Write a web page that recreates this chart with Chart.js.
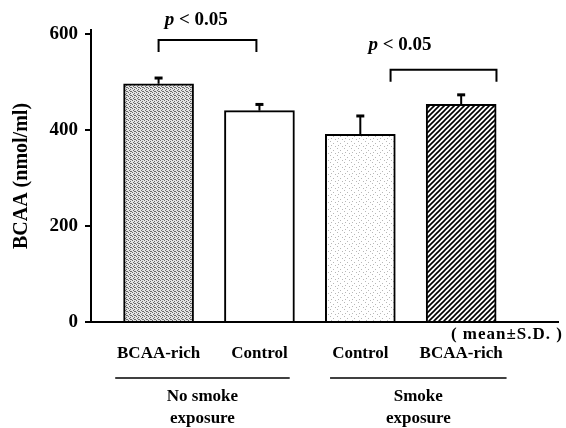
<!DOCTYPE html>
<html><head><meta charset="utf-8">
<script src="https://cdn.jsdelivr.net/npm/chart.js@4/dist/chart.umd.min.js"></script>
<style>html,body{margin:0;padding:0;background:#fff}#wrap{width:566px;height:428px}</style>
</head><body><div id="wrap"><canvas id="c"></canvas></div>
<script>
// ---- data ----
const categories = ['BCAA-rich', 'Control', 'Control', 'BCAA-rich'];
const positions = [1, 2, 3, 4];
const means = [496, 440, 391, 453];
const sds = [12, 13, 38, 20];
const groupLabels = [['No smoke', 'exposure'], ['Smoke', 'exposure']];
const groupSpans = [[0.57, 2.30], [2.70, 4.45]];
const pLabel = 'p < 0.05';
const bracketSpans = [[1.0, 1.97], [3.30, 4.35]];
const bracketLevels = [587, 525];
const bracketLegs = [562, 500];
const pTextPos = [[1.06, 629], [3.08, 577]];
const yTicks = [0, 200, 400, 600];
const yTitle = 'BCAA (nmol/ml)';
const noteText = '( mean\u00B1S.D. )';

const SERIF = '"Liberation Serif", "DejaVu Serif", serif';

function makePattern(kind) {
  const c = document.createElement('canvas');
  const ctx = c.getContext('2d');
  if (kind === 'dense') {
    c.width = 4; c.height = 4;
    ctx.fillStyle = '#e4e4e4'; ctx.fillRect(0, 0, 4, 4);
    ctx.fillStyle = '#6a6a6a';
    [[0,0],[2,1],[1,2],[3,3],[2,3]].forEach(p => ctx.fillRect(p[0], p[1], 1, 1));
  } else if (kind === 'light') {
    c.width = 7; c.height = 7;
    ctx.fillStyle = '#ffffff'; ctx.fillRect(0, 0, 7, 7);
    ctx.fillStyle = '#b8b8b8';
    [[1,1],[4,3],[2,5],[6,6]].forEach(p => ctx.fillRect(p[0], p[1], 1, 1));
  } else if (kind === 'hatch') {
    const s = 5;
    c.width = s; c.height = s;
    ctx.fillStyle = '#ffffff'; ctx.fillRect(0, 0, s, s);
    ctx.strokeStyle = '#000'; ctx.lineWidth = 1.6;
    ctx.beginPath();
    ctx.moveTo(-1, s + 1); ctx.lineTo(s + 1, -1);
    ctx.moveTo(-1, 1); ctx.lineTo(1, -1);
    ctx.moveTo(s - 1, s + 1); ctx.lineTo(s + 1, s - 1);
    ctx.stroke();
  } else {
    c.width = 1; c.height = 1;
    ctx.fillStyle = '#fff'; ctx.fillRect(0, 0, 1, 1);
  }
  return ctx.createPattern(c, 'repeat');
}

const fills = [makePattern('dense'), makePattern('white'), makePattern('light'), makePattern('hatch')];

const annotate = {
  id: 'annotate',
  afterDatasetsDraw(chart) {
    const ctx = chart.ctx, xs = chart.scales.x, ys = chart.scales.y;
    ctx.save();
    ctx.strokeStyle = '#000'; ctx.fillStyle = '#000';
    // error bars
    means.forEach((m, i) => {
      const x = xs.getPixelForValue(positions[i]);
      const y0 = ys.getPixelForValue(m);
      const y1 = ys.getPixelForValue(m + sds[i]);
      ctx.lineWidth = 2;
      ctx.beginPath(); ctx.moveTo(x, y0); ctx.lineTo(x, y1); ctx.stroke();
      ctx.lineWidth = 3;
      ctx.beginPath(); ctx.moveTo(x - 4, y1); ctx.lineTo(x + 4, y1); ctx.stroke();
    });
    // brackets
    ctx.lineWidth = 2;
    bracketSpans.forEach((sp, i) => {
      const xa = xs.getPixelForValue(sp[0]), xb = xs.getPixelForValue(sp[1]);
      const yl = ys.getPixelForValue(bracketLevels[i]), yg = ys.getPixelForValue(bracketLegs[i]);
      ctx.beginPath(); ctx.moveTo(xa, yg); ctx.lineTo(xa, yl); ctx.lineTo(xb, yl); ctx.lineTo(xb, yg); ctx.stroke();
    });
    // p labels
    pTextPos.forEach(p => {
      const x = xs.getPixelForValue(p[0]), y = ys.getPixelForValue(p[1]);
      ctx.textBaseline = 'middle'; ctx.textAlign = 'left';
      ctx.font = 'italic bold 19px ' + SERIF;
      ctx.fillText('p', x, y);
      const w = ctx.measureText('p ').width;
      ctx.font = 'bold 19px ' + SERIF;
      ctx.fillText(pLabel.slice(2), x + w, y);
    });
    // category labels
    const area = chart.chartArea;
    ctx.font = 'bold 17px ' + SERIF;
    ctx.textAlign = 'center'; ctx.textBaseline = 'middle';
    categories.forEach((c, i) => {
      ctx.fillText(c, xs.getPixelForValue(positions[i]), area.bottom + 32);
    });
    // group underlines + labels
    ctx.lineWidth = 1.5;
    groupSpans.forEach((sp, i) => {
      const xa = xs.getPixelForValue(sp[0]), xb = xs.getPixelForValue(sp[1]);
      const yl = area.bottom + 56;
      ctx.beginPath(); ctx.moveTo(xa, yl); ctx.lineTo(xb, yl); ctx.stroke();
      const cx = (xa + xb) / 2;
      ctx.font = 'bold 17px ' + SERIF;
      ctx.fillText(groupLabels[i][0], cx, area.bottom + 75);
      ctx.fillText(groupLabels[i][1], cx, area.bottom + 97);
    });
    // note
    ctx.font = 'bold 17px ' + SERIF;
    ctx.textAlign = 'right';
    try { ctx.letterSpacing = '1px'; } catch (e) {}
    ctx.fillText(noteText, area.right + 5, area.bottom + 13);
    ctx.restore();
  }
};

new Chart(document.getElementById('c'), {
  type: 'bar',
  data: {
    datasets: [{
      data: means.map((m, i) => ({ x: positions[i], y: m })),
      backgroundColor: fills,
      borderColor: '#000',
      borderWidth: 2,
      borderSkipped: 'bottom',
      barThickness: 70
    }]
  },
  options: {
    responsive: true,
    maintainAspectRatio: false,
    animation: false,
    devicePixelRatio: 1,
    layout: { padding: { top: 30, right: 8, left: 0, bottom: 0 } },
    plugins: { legend: { display: false }, tooltip: { enabled: false } },
    scales: {
      x: {
        type: 'linear',
        offset: false,
        min: 0.33, max: 4.96,
        grid: { display: false },
        border: { display: true, color: '#000', width: 2 },
        ticks: { display: false },
        afterFit: s => { s.height = 106; }
      },
      y: {
        min: 0, max: 608,
        afterBuildTicks: s => { s.ticks = yTicks.map(v => ({ value: v })); },
        grid: { display: true, drawOnChartArea: false, drawTicks: true, tickLength: 6, color: '#000', lineWidth: 2 },
        border: { display: true, color: '#000', width: 2 },
        ticks: { color: '#000', padding: 7, font: { family: SERIF, size: 19, weight: 'bold' } },
        title: { display: true, text: yTitle, color: '#000', padding: { top: 10, bottom: 0 }, font: { family: SERIF, size: 20, weight: 'bold' } },
        afterFit: s => { s.width = 91; }
      }
    }
  },
  plugins: [annotate]
});
</script>
</body></html>
